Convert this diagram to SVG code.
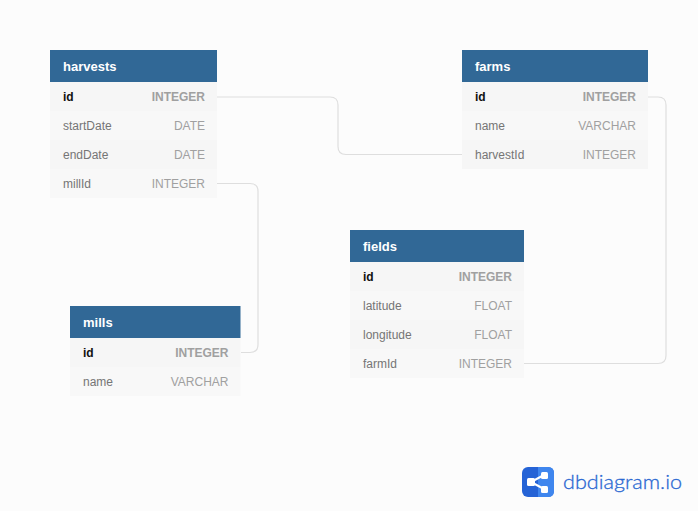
<svg xmlns="http://www.w3.org/2000/svg" width="698" height="511" viewBox="0 0 698 511">
<defs>
<style>
text{font-family:"Liberation Sans",Arial,sans-serif;font-size:12px}
.hd{fill:#316896}
.r1{fill:#f6f6f6}
.r2{fill:#f8f8f8}
.t{font-size:13px;font-weight:700;fill:#fff}
.n{fill:#757575}
.k{fill:#111;font-weight:700}
.y{fill:#a0a0a0;text-anchor:end}
.yk{fill:#a0a0a0;text-anchor:end;font-weight:700}
.c{fill:none;stroke:#dedede;stroke-width:1.200}
</style>
</defs>
<rect width="698" height="511" fill="#fcfcfc"/>
<g id="connectors">
<path class="c" d="M217 97H330Q338 97 338 105V146.500Q338 154.500 346 154.500H462"/>
<path class="c" d="M217 183.500H250Q258 183.500 258 191.500V344.500Q258 352.500 250 352.500H241"/>
<path class="c" d="M648 97H658Q666 97 666 105V355.500Q666 363.500 658 363.500H524"/>
</g>
<g id="harvests">
<rect class="r1" x="50" y="82" width="167" height="29"/>
<rect class="r2" x="50" y="111" width="167" height="29"/>
<rect class="r1" x="50" y="140" width="167" height="29"/>
<rect class="r2" x="50" y="169" width="167" height="29"/>
<rect class="hd" x="50" y="50" width="167" height="32"/>
<text class="t" x="63" y="71">harvests</text>
<text class="k" x="63" y="101">id</text><text class="yk" x="205" y="101">INTEGER</text>
<text class="n" x="63" y="130">startDate</text><text class="y" x="205" y="130">DATE</text>
<text class="n" x="63" y="159">endDate</text><text class="y" x="205" y="159">DATE</text>
<text class="n" x="63" y="188">millId</text><text class="y" x="205" y="188">INTEGER</text>
</g>
<g id="farms">
<rect class="r1" x="462" y="82" width="186" height="29"/>
<rect class="r2" x="462" y="111" width="186" height="29"/>
<rect class="r1" x="462" y="140" width="186" height="29"/>
<rect class="hd" x="462" y="50" width="186" height="32"/>
<text class="t" x="475" y="71">farms</text>
<text class="k" x="475" y="101">id</text><text class="yk" x="636" y="101">INTEGER</text>
<text class="n" x="475" y="130">name</text><text class="y" x="636" y="130">VARCHAR</text>
<text class="n" x="475" y="159">harvestId</text><text class="y" x="636" y="159">INTEGER</text>
</g>
<g id="fields">
<rect class="r1" x="350" y="262" width="174" height="29"/>
<rect class="r2" x="350" y="291" width="174" height="29"/>
<rect class="r1" x="350" y="320" width="174" height="29"/>
<rect class="r2" x="350" y="349" width="174" height="29"/>
<rect class="hd" x="350" y="230" width="174" height="32"/>
<text class="t" x="363" y="251">fields</text>
<text class="k" x="363" y="281">id</text><text class="yk" x="512" y="281">INTEGER</text>
<text class="n" x="363" y="310">latitude</text><text class="y" x="512" y="310">FLOAT</text>
<text class="n" x="363" y="339">longitude</text><text class="y" x="512" y="339">FLOAT</text>
<text class="n" x="363" y="368">farmId</text><text class="y" x="512" y="368">INTEGER</text>
</g>
<g id="mills">
<rect class="r1" x="70" y="338" width="170.500" height="29"/>
<rect class="r2" x="70" y="367" width="170.500" height="29"/>
<rect class="hd" x="70" y="306" width="170.500" height="32"/>
<text class="t" x="83" y="327">mills</text>
<text class="k" x="83" y="357">id</text><text class="yk" x="228.500" y="357">INTEGER</text>
<text class="n" x="83" y="386">name</text><text class="y" x="228.500" y="386">VARCHAR</text>
</g>
<g id="logo">
<rect x="522" y="467" width="32" height="30" rx="6" fill="#2563d6"/>
<path d="M538 467H548Q554 467 554 473V491Q554 497 548 497H538Z" fill="#3f86ee"/>
<path d="M531 482L544 475M531 482L544 489" stroke="#fff" stroke-width="2" fill="none"/>
<rect x="527" y="478" width="8" height="8" rx="1.500" fill="#fff"/>
<rect x="541" y="472" width="7" height="7" rx="1.500" fill="#fff"/>
<rect x="541" y="486" width="7" height="7" rx="1.500" fill="#fff"/>
<text x="563" y="489" style="font-family:Lato,'Open Sans',sans-serif;font-size:20px;font-weight:300" stroke="#2a68d2" stroke-width="0.300" textLength="119" lengthAdjust="spacingAndGlyphs" fill="#2a68d2">dbdiagram.io</text>
</g>
</svg>
